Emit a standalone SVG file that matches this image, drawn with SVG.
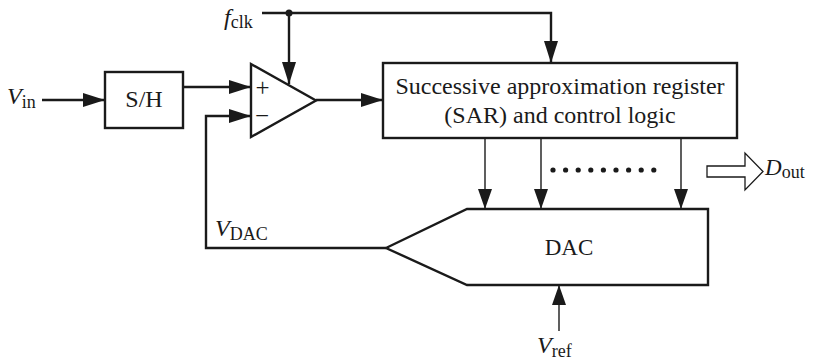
<svg xmlns="http://www.w3.org/2000/svg" width="816" height="362" viewBox="0 0 816 362">
<defs>
<style>
.w{stroke:#1a1a1a;stroke-width:2.4;fill:none}
.t{stroke:#1a1a1a;stroke-width:1.4;fill:none}
.b{stroke:#1a1a1a;stroke-width:2.4;fill:#fff}
.tx{font-family:"Liberation Serif","Times New Roman",serif;fill:#1a1a1a}
.it{font-style:italic}
.sub{font-size:18px}
</style>
<marker id="ah" markerUnits="userSpaceOnUse" markerWidth="22" markerHeight="14" refX="22" refY="7" orient="auto">
<path d="M0,0 L22,7 L0,14 Z" fill="#1a1a1a"/>
</marker>
<marker id="as" markerUnits="userSpaceOnUse" markerWidth="20" markerHeight="14" refX="20" refY="7" orient="auto">
<path d="M0,0 L20,7 L0,14 Z" fill="#1a1a1a"/>
</marker>
</defs>
<rect width="816" height="362" fill="#fff"/>

<g id="connectors">
<path class="w" d="M42,100 H105" marker-end="url(#ah)"/>
<path class="w" d="M183,87 H251" marker-end="url(#ah)"/>
<path class="w" d="M262,13 H551 V63" marker-end="url(#ah)"/>
<path class="w" d="M289,13 V84" marker-end="url(#ah)"/>
<path class="w" d="M316,100 H383" marker-end="url(#ah)"/>
<path class="w" d="M386,248 H206 V116 H251" marker-end="url(#ah)"/>
<path class="t" d="M485,138 V209" marker-end="url(#as)"/>
<path class="t" d="M541,138 V209" marker-end="url(#as)"/>
<path class="t" d="M681,138 V209" marker-end="url(#as)"/>
<path class="t" d="M559,331 V285" marker-end="url(#as)"/>
<circle cx="289" cy="13" r="3.5" fill="#1a1a1a"/>
</g>

<g id="dots" fill="#1a1a1a">
<circle cx="553" cy="170" r="2.6"/><circle cx="565.6" cy="170" r="2.6"/><circle cx="578.2" cy="170" r="2.6"/>
<circle cx="590.8" cy="170" r="2.6"/><circle cx="603.4" cy="170" r="2.6"/><circle cx="616" cy="170" r="2.6"/>
<circle cx="628.6" cy="170" r="2.6"/><circle cx="641.2" cy="170" r="2.6"/><circle cx="653.8" cy="170" r="2.6"/>
</g>

<g id="dout">
<path d="M707,166 H745 V153 L763,171.5 L745,190 V177 H707 Z" fill="#fff" stroke="#1a1a1a" stroke-width="1.3"/>
<text class="tx" x="765" y="175" font-size="23"><tspan class="it">D</tspan><tspan class="sub" dy="3">out</tspan></text>
</g>

<g id="vin">
<text class="tx" x="7" y="104" font-size="24"><tspan class="it">V</tspan><tspan class="sub" dy="4">in</tspan></text>
</g>

<g id="fclk">
<text class="tx" x="224" y="25" font-size="24"><tspan class="it">f</tspan><tspan class="sub" dy="3">clk</tspan></text>
</g>

<g id="sh">
<rect class="b" x="105" y="72" width="78" height="56"/>
<text class="tx" x="144" y="107" font-size="24" text-anchor="middle">S/H</text>
</g>

<g id="comparator">
<polygon class="b" points="251,64 251,137 316,100.5"/>
<text class="tx" x="262.5" y="96" font-size="25" text-anchor="middle">+</text>
<text class="tx" x="262" y="124" font-size="25" text-anchor="middle">−</text>
</g>

<g id="sar">
<rect class="b" x="383" y="63" width="354" height="75"/>
<text class="tx" x="560" y="94" font-size="24" text-anchor="middle">Successive approximation register</text>
<text class="tx" x="560" y="123" font-size="24" text-anchor="middle">(SAR) and control logic</text>
</g>

<g id="dac">
<polygon class="b" points="386,248 467,209 708,209 708,285 467,285"/>
<text class="tx" x="569" y="255" font-size="23" text-anchor="middle">DAC</text>
</g>

<g id="vdac">
<text class="tx" x="215" y="236" font-size="24"><tspan class="it">V</tspan><tspan class="sub" dy="4">DAC</tspan></text>
</g>

<g id="vref">
<text class="tx" x="537" y="353" font-size="24"><tspan class="it">V</tspan><tspan class="sub" dy="4">ref</tspan></text>
</g>
</svg>
